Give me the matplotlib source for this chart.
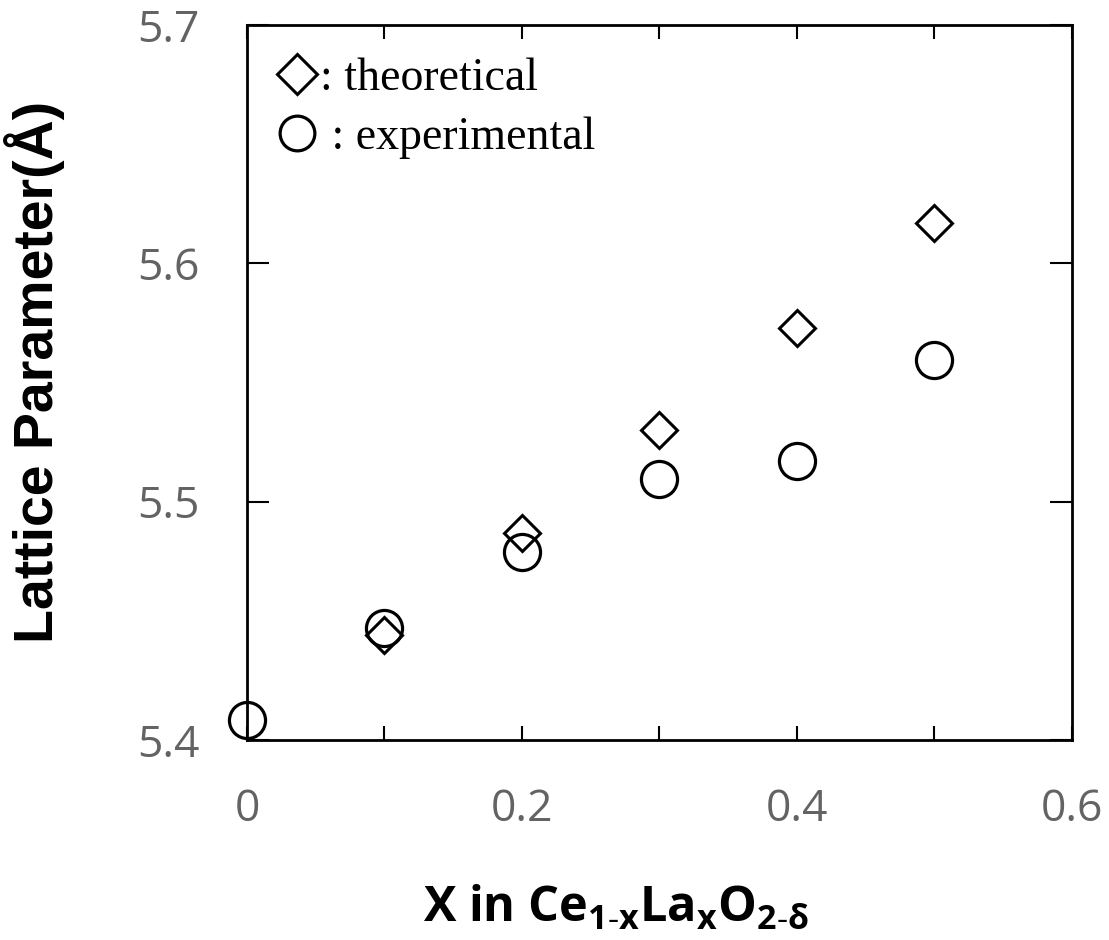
import matplotlib
matplotlib.use("Agg")
import matplotlib.pyplot as plt
from matplotlib.ticker import FixedLocator
from matplotlib.lines import Line2D

# La content x and lattice parameters (Angstrom)
x_theo = [0.1, 0.2, 0.3, 0.4, 0.5]
a_theo = [5.444, 5.487, 5.530, 5.573, 5.617]
x_exp = [0.0, 0.1, 0.2, 0.3, 0.4, 0.5]
a_exp = [5.4085, 5.447, 5.479, 5.5095, 5.517, 5.5595]

xtick_vals = [0, 0.2, 0.4, 0.6]
xtick_labels = ["0", "0.2", "0.4", "0.6"]
ytick_vals = [5.4, 5.5, 5.6, 5.7]
ytick_labels = ["5.4", "5.5", "5.6", "5.7"]

plt.rcParams["mathtext.default"] = "regular"

fig = plt.figure(figsize=(11.09, 9.40), dpi=100)
ax = fig.add_axes([0.2227, 0.2128, 0.7439, 0.7606])

ax.plot(x_theo, a_theo, linestyle="none", marker="D", ms=18, mfc="white",
        mec="black", mew=2.2, clip_on=False, zorder=3)
ax.plot(x_exp, a_exp, linestyle="none", marker="o", ms=26, mfc="none",
        mec="black", mew=2.3, clip_on=False, zorder=4)

ax.set_xlim(0, 0.6)
ax.set_ylim(5.4, 5.7)

ax.set_xticks(xtick_vals)
ax.set_xticklabels(xtick_labels)
ax.xaxis.set_minor_locator(FixedLocator([0.1, 0.3, 0.5]))
ax.set_yticks(ytick_vals)
ax.set_yticklabels(ytick_labels)

ax.tick_params(which="both", direction="in", top=True, right=True,
               length=10, width=1.5, color="black",
               labelsize=32, labelcolor="#636363", pad=34)
ax.tick_params(axis="y", which="major", length=16)
for lab in ax.get_xticklabels() + ax.get_yticklabels():
    lab.set_family("Open Sans")

for sp in ax.spines.values():
    sp.set_linewidth(2)
    sp.set_color("black")

ax.set_ylabel("Lattice Parameter(Å)", fontsize=40, fontweight="bold",
              family="Liberation Sans", labelpad=52)
ax.yaxis.label.set_y(0.515)
ax.set_xlabel(r"X in Ce$_{1‐x}$La$_{x}$O$_{2‐δ}$", fontsize=35,
              fontweight="bold", family="Open Sans", labelpad=38)
ax.xaxis.label.set_x(0.447)

handles = [
    Line2D([], [], linestyle="none", marker="D", ms=20, mfc="white",
           mec="black", mew=2.2),
    Line2D([], [], linestyle="none", marker="o", ms=25, mfc="none",
           mec="black", mew=2.3),
]
ax.legend(handles, [": theoretical", " : experimental"], loc="upper left",
          frameon=False, prop={"family": "Liberation Serif", "size": 33},
          handlelength=0.8, handletextpad=0.1, labelspacing=0.35,
          borderaxespad=0.2, bbox_to_anchor=(0.005, 0.993))

fig.savefig("out.png", dpi=100)
